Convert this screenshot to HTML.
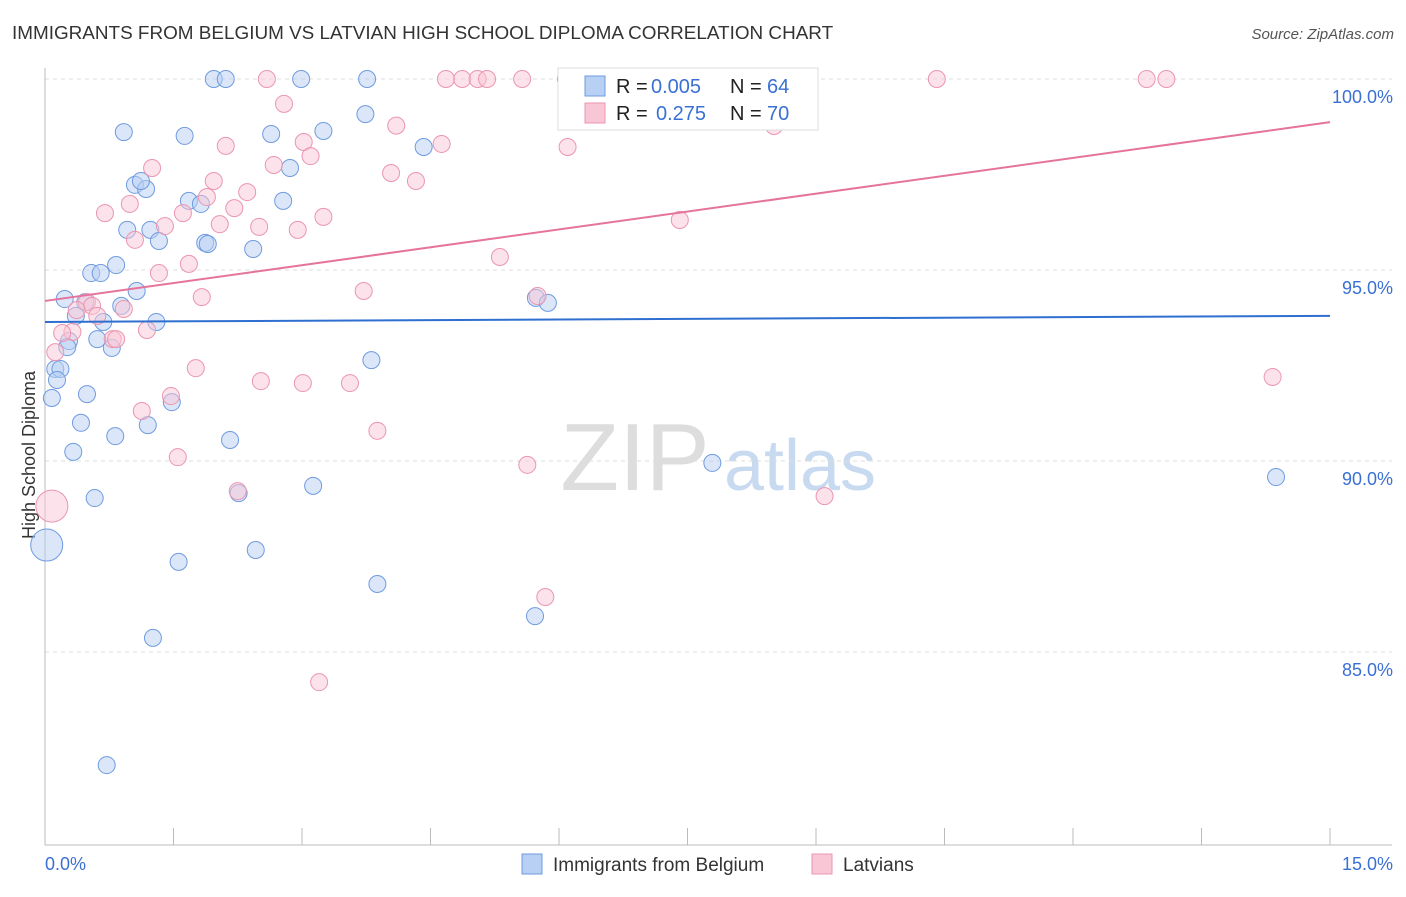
<!DOCTYPE html>
<html><head><meta charset="utf-8"><style>
body{margin:0;background:#fff;font-family:"Liberation Sans",sans-serif;}
svg text{font-family:"Liberation Sans",sans-serif;}
</style></head><body>
<svg id="chart" width="1406" height="892">
<text x="12" y="39" font-size="18.9" fill="#333">IMMIGRANTS FROM BELGIUM VS LATVIAN HIGH SCHOOL DIPLOMA CORRELATION CHART</text>
<text x="1394" y="39" font-size="15" fill="#555" font-style="italic" text-anchor="end">Source: ZipAtlas.com</text>
<text x="35" y="455" font-size="18" fill="#333" text-anchor="middle" transform="rotate(-90 35 455)">High School Diploma</text>
<g><text x="635" y="490" font-size="96" font-family="Liberation Serif" fill="#ddd" text-anchor="middle">ZIP</text><text x="800" y="490" font-size="72" fill="#c8daf0" text-anchor="middle">atlas</text></g>
<g id="grid"></g><g id="axes"></g><g id="pts"></g><g id="lines"></g>
<g>
<rect x="558" y="68" width="260" height="62" fill="#fff" stroke="#ddd"/>
<rect x="585" y="76" width="20" height="20" fill="#b7d0f3" stroke="#6f9be0"/>
<rect x="585" y="103" width="20" height="20" fill="#f9c6d5" stroke="#eb96b0"/>
<text x="616" y="93" font-size="20" fill="#222">R =</text>
<text x="651" y="93" font-size="20" fill="#3a70d4">0.005</text>
<text x="730" y="93" font-size="20" fill="#222">N =</text>
<text x="767" y="93" font-size="20" fill="#3a70d4">64</text>
<text x="616" y="120" font-size="20" fill="#222">R =</text>
<text x="656" y="120" font-size="20" fill="#3a70d4">0.275</text>
<text x="730" y="120" font-size="20" fill="#222">N =</text>
<text x="767" y="120" font-size="20" fill="#3a70d4">70</text>
</g>
<g>
<rect x="522" y="854" width="20" height="20" fill="#b7d0f3" stroke="#6f9be0"/>
<text x="553" y="871" font-size="19" fill="#333">Immigrants from Belgium</text>
<rect x="812" y="854" width="20" height="20" fill="#f9c6d5" stroke="#eb96b0"/>
<text x="843" y="871" font-size="19" fill="#333">Latvians</text>
</g>
</svg>
<script>
const yTicks=[100,95,90,85];
const xTickLabels=["0.0%","15.0%"];
const blueX=[1.97,2.11,2.99,3.76,6.08,0.92,1.63,2.64,3.25,3.74,4.42,2.86,1.05,1.18,1.12,1.68,1.82,2.78,0.96,1.23,1.33,1.87,1.90,2.43,0.83,0.54,0.65,1.07,0.23,0.47,0.89,0.36,0.68,1.30,5.73,5.87,0.61,0.28,0.78,0.26,3.81,0.12,0.18,0.14,0.08,0.49,1.48,0.42,1.20,0.82,2.16,0.33,7.79,14.37,0.58,3.13,2.26,0.02,2.46,1.56,3.88,5.72,1.26,0.72];
const blueY=[100,100,100,100,100,98.61,98.51,98.56,98.64,99.08,98.22,97.67,97.23,97.12,97.33,96.81,96.73,96.81,96.05,96.05,95.76,95.71,95.68,95.55,95.13,94.92,94.92,94.45,94.24,94.16,94.06,93.80,93.64,93.64,94.27,94.14,93.19,93.14,92.96,92.98,92.64,92.41,92.41,92.12,91.65,91.75,91.54,91.0,90.94,90.65,90.55,90.24,89.95,89.58,89.03,89.35,89.16,87.80,87.67,87.36,86.78,85.94,85.37,82.04];
const pinkX=[2.59,4.68,4.87,5.05,5.16,5.57,6.44,10.41,12.86,13.09,2.79,4.10,3.02,2.11,4.63,6.10,3.10,8.51,1.25,2.67,4.04,4.33,1.97,2.36,1.89,0.70,0.99,1.61,1.40,2.21,3.25,2.50,2.95,2.04,7.41,1.05,1.68,1.33,5.31,3.72,1.83,0.49,0.55,0.92,0.37,0.61,0.32,0.20,0.79,0.83,1.19,0.12,1.76,2.52,3.01,3.56,1.47,1.13,3.88,1.55,5.63,2.25,9.10,14.33,0.08,5.84,3.20,5.75];
const pinkY=[100,100,100,100,100,100,100,100,100,100,99.35,98.78,98.35,98.25,98.30,98.22,97.98,98.77,97.67,97.75,97.54,97.33,97.33,97.04,96.91,96.49,96.73,96.49,96.15,96.62,96.39,96.13,96.05,96.20,96.31,95.79,95.16,94.92,95.34,94.45,94.29,94.16,94.06,93.98,93.95,93.80,93.38,93.35,93.19,93.19,93.43,92.85,92.43,92.09,92.04,92.04,91.70,91.31,90.79,90.10,89.90,89.21,89.08,92.20,88.82,86.44,84.21,94.32];
const blueTrend=[93.64,93.80];
const pinkTrend=[94.19,98.87];
const xs=v=>45+v*(1285/15);
const ys=v=>79+(100-v)*38.2;
const NS="http://www.w3.org/2000/svg";
function mk(tag,attrs,parent){const e=document.createElementNS(NS,tag);for(const k in attrs)e.setAttribute(k,attrs[k]);parent.appendChild(e);return e;}
const grid=document.getElementById('grid'),axes=document.getElementById('axes'),pts=document.getElementById('pts'),lines=document.getElementById('lines');
yTicks.forEach(t=>{
 const l=mk('line',{x1:45,x2:1392,y1:ys(t),y2:ys(t),stroke:'#ddd','stroke-dasharray':'4 4'},grid);
 
 
 const tx=mk('text',{x:1393,y:ys(t)+24,'font-size':18,fill:'#3a70d4','text-anchor':'end'},axes);
 tx.textContent=t.toFixed(1)+'%';
 
 
});
const ax=mk('line',{x1:45,x2:45,y1:68,y2:845,stroke:'#bbb'},axes);


const bx=mk('line',{x1:45,x2:1392,y1:845,y2:845,stroke:'#bbb'},axes);


for(let i=0;i<=10;i++){
 const t=mk('line',{x1:xs(i*1.5),x2:xs(i*1.5),y1:828,y2:845,stroke:'#bbb'},axes);
 
 
}
[[0,'start',45],[15,'end',1393]].forEach((d,i)=>{
 const t=mk('text',{x:d[2],y:870,'font-size':18,fill:'#3a70d4','text-anchor':d[1]},axes);
 t.textContent=xTickLabels[i];
 
 
});
function dots(X,Y,fill,stroke,name){
 X.forEach((x,i)=>{
  const big=(x<0.1&&Y[i]<90);
  const c=mk('circle',{cx:xs(x),cy:ys(Y[i]),r:big?16:8.5,fill:fill,stroke:stroke,'stroke-width':1,'fill-opacity':0.5},pts);
  
  
 });
}
dots(blueX,blueY,'#b7d0f3','#6f9be0','point-belgium');
dots(pinkX,pinkY,'#f9c6d5','#eb96b0','point-latvians');
const bl=mk('line',{x1:xs(0),x2:xs(15),y1:ys(blueTrend[0]),y2:ys(blueTrend[1]),stroke:'#2e6fd0','stroke-width':2},lines);


const pl=mk('line',{x1:xs(0),x2:xs(15),y1:ys(pinkTrend[0]),y2:ys(pinkTrend[1]),stroke:'#e5739b','stroke-width':2},lines);


</script>
</body></html>
